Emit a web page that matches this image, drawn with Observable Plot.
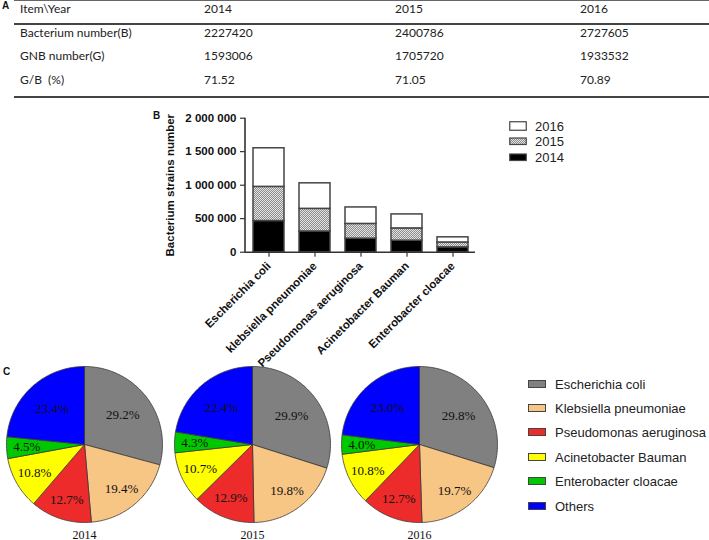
<!DOCTYPE html>
<html><head><meta charset="utf-8">
<script src="https://cdn.jsdelivr.net/npm/d3@7"></script>
<script src="https://cdn.jsdelivr.net/npm/@observablehq/plot@0.6"></script>
<style>
body{margin:0;background:#fff;}
#root{position:relative;width:709px;height:540px;overflow:hidden;font-family:"Liberation Sans",Arial,sans-serif;background:#fff;}
.cell{position:absolute;white-space:nowrap;font-family:Lato,"Liberation Sans",sans-serif;font-size:12px;color:#222;transform:translateY(-50%);line-height:1;}
.hline{position:absolute;left:14px;right:0;}
.panel{position:absolute;font-weight:bold;font-size:10px;color:#111;line-height:1;}
.plotbox{position:absolute;}
.leg{position:absolute;font-size:13px;color:#222;white-space:nowrap;transform:translateY(-50%);line-height:1;}
.sw{position:absolute;box-sizing:border-box;transform:translateY(-50%);}
</style></head><body>
<svg width="0" height="0" style="position:absolute">
  <defs>
    <pattern id="dots" width="2" height="2" patternUnits="userSpaceOnUse">
      <rect width="2" height="2" fill="#e4e4e4"/>
      <rect x="0" y="0" width="1" height="1" fill="#8c8c8c"/>
      <rect x="1" y="1" width="1" height="1" fill="#8c8c8c"/>
    </pattern>
  </defs>
</svg>
<div id="root"></div>
<script>
// ---------- data ----------
const tableHeader = ["Item\\Year", "2014", "2015", "2016"];
const tableItems = ["Bacterium number(B)", "GNB number(G)", "G/B\u00a0\u00a0(%)"];
const table2014 = ["2227420", "1593006", "71.52"];
const table2015 = ["2400786", "1705720", "71.05"];
const table2016 = ["2727605", "1933532", "70.89"];

const species = ["Escherichia coli", "klebsiella pneumoniae", "Pseudomonas aeruginosa", "Acinetobacter Bauman", "Enterobacter cloacae"];
const years = ["2014", "2015", "2016"];
const strains2014 = [465000, 309000, 202000, 172000, 72000];
const strains2015 = [510000, 338000, 220000, 183000, 73000];
const strains2016 = [576000, 381000, 246000, 209000, 77000];
const yTicks = [0, 500000, 1000000, 1500000, 2000000];

const pieNames = ["Escherichia coli", "Klebsiella pneumoniae", "Pseudomonas aeruginosa", "Acinetobacter Bauman", "Enterobacter cloacae", "Others"];
const pieColors = ["#808080", "#f7c584", "#ee2b2b", "#ffff00", "#00c800", "#0000ff"];
const pie2014 = [29.2, 19.4, 12.7, 10.8, 4.5, 23.4];
const pie2015 = [29.9, 19.8, 12.9, 10.7, 4.3, 22.4];
const pie2016 = [29.8, 19.7, 12.7, 10.8, 4.0, 23.0];

// ---------- helpers ----------
const root = document.getElementById("root");
function el(cls, html, style) {
  const d = document.createElement("div");
  d.className = cls;
  if (html != null) d.textContent = html;
  Object.assign(d.style, style || {});
  root.appendChild(d);
  return d;
}

// ---------- panel A: table ----------
el("panel", "A", {left: "2px", top: "1px"});
el("hline", null, {top: "0px", height: "1px", background: "#666"});
el("hline", null, {top: "23px", height: "2px", background: "#444"});
el("hline", null, {top: "96px", height: "2px", background: "#444"});
const colX = [20, 204, 395, 580];
const rowY = [33, 56, 80];
tableHeader.forEach((t, i) => el("cell", t, {left: colX[i] + "px", top: "9px"}));
const tableCols = [tableItems, table2014, table2015, table2016];
tableCols.forEach((col, i) => col.forEach((t, j) => el("cell", t, {left: colX[i] + "px", top: rowY[j] + "px"})));

// ---------- panel B: stacked bars ----------
el("panel", "B", {left: "153px", top: "111px"});
const strainsByYear = [strains2014, strains2015, strains2016];
const barData = [];
years.forEach((yr, i) => species.forEach((s, j) => barData.push({species: s, year: yr, value: strainsByYear[i][j]})));

const BW = 350, BH = 260, BML = 105, BMR = 15, BMT = 12.7, BMB = 113.3;
const bar = Plot.plot({
  width: BW, height: BH,
  marginLeft: BML, marginRight: BMR, marginTop: BMT, marginBottom: BMB,
  style: {background: "transparent", fontFamily: "'Liberation Sans', Arial, sans-serif", fontSize: "11.5px", fontWeight: "bold", color: "#111", overflow: "visible"},
  x: {domain: species, paddingInner: 0.33, paddingOuter: 0.155, tickRotate: -45, tickSize: 5, label: null},
  y: {domain: [0, 2000000], ticks: yTicks, tickFormat: d => d3.format(",")(d).replace(/,/g, " "), tickSize: 5,
      label: "Bacterium strains number", labelAnchor: "center", labelOffset: 80, labelArrow: "none"},
  color: {domain: years, range: ["#000000", "url(#dots)", "#ffffff"]},
  marks: [
    Plot.barY(barData, {x: "species", y: "value", fill: "year", stroke: "#444", strokeWidth: 1.5}),
    Plot.ruleY([0], {stroke: "#333", strokeWidth: 1.6})
  ]
});
d3.select(bar).append("line")
  .attr("x1", BML).attr("x2", BML).attr("y1", BMT).attr("y2", BH - BMB + 0.8)
  .attr("stroke", "#333").attr("stroke-width", 1.6);
const barBox = el("plotbox", null, {left: "140px", top: "105px"});
barBox.appendChild(bar);

// bar legend
const barLegY = [126, 141, 157];
const barLegFill = ["#ffffff", "url(#dots)", "#000000"];
const barLegOrder = ["2016", "2015", "2014"];
barLegOrder.forEach((yr, i) => {
  const s = document.createElementNS("http://www.w3.org/2000/svg", "svg");
  s.setAttribute("width", 18); s.setAttribute("height", 10);
  s.style.position = "absolute"; s.style.left = "509px"; s.style.top = (barLegY[i] - 5) + "px";
  const r = document.createElementNS("http://www.w3.org/2000/svg", "rect");
  r.setAttribute("x", 0.75); r.setAttribute("y", i === 0 ? 0.75 : 2);
  r.setAttribute("width", 16.5); r.setAttribute("height", i === 0 ? 8.5 : 6.5);
  r.setAttribute("fill", barLegFill[i]); r.setAttribute("stroke", "#444"); r.setAttribute("stroke-width", 1.2);
  s.appendChild(r);
  root.appendChild(s);
  el("leg", yr, {left: "535px", top: barLegY[i] + "px"});
});

// ---------- panel C: pies ----------
el("panel", "C", {left: "3px", top: "367px"});
const pieByYear = [pie2014, pie2015, pie2016];
const pieLeft = [0, 168, 335];
pieByYear.forEach((vals, yi) => {
  const arcs = d3.pie().sort(null)(vals);
  const pts = [];
  arcs.forEach((a, i) => {
    const name = pieNames[i];
    pts.push({name, x: 0, y: 0});
    const n = Math.max(2, Math.ceil((a.endAngle - a.startAngle) / 0.02));
    for (let k = 0; k <= n; k++) {
      const t = a.startAngle + (a.endAngle - a.startAngle) * k / n;
      pts.push({name, x: Math.sin(t), y: Math.cos(t)});
    }
    pts.push({name, x: 0, y: 0});
  });
  const labels = arcs.map((a, i) => {
    const m = (a.startAngle + a.endAngle) / 2;
    const r = vals[i] > 20 ? 0.62 : 0.74;
    return {x: r * Math.sin(m), y: r * Math.cos(m), text: vals[i].toFixed(1) + "%"};
  });
  const p = Plot.plot({
    width: 168, height: 180,
    marginLeft: 6, marginRight: 6, marginTop: 6, marginBottom: 18,
    style: {background: "transparent", overflow: "visible"},
    x: {domain: [-1, 1], axis: null},
    y: {domain: [-1, 1], axis: null},
    color: {domain: pieNames, range: pieColors},
    marks: [
      Plot.line(pts, {x: "x", y: "y", z: "name", fill: "name", stroke: "#3a3a3a", strokeWidth: 0.8, curve: "linear"}),
      Plot.text(labels, {x: "x", y: "y", text: "text", fontFamily: "'Liberation Serif', 'Times New Roman', serif", fontSize: 13, fill: "#111"}),
      Plot.text([years[yi]], {text: d => d, frameAnchor: "bottom", dy: 16, fontFamily: "'Liberation Serif', 'Times New Roman', serif", fontSize: 12, fill: "#111"})
    ]
  });
  const box = el("plotbox", null, {left: pieLeft[yi] + "px", top: "360px"});
  box.appendChild(p);
});

// pie legend
const pieLegY = [384, 408, 432, 457, 481, 506];
pieNames.forEach((nm, i) => {
  el("sw", null, {left: "528px", top: pieLegY[i] + "px", width: "18px", height: "8px", background: pieColors[i], border: "1px solid #444"});
  el("leg", nm, {left: "555px", top: pieLegY[i] + "px"});
});
</script>
</body></html>
